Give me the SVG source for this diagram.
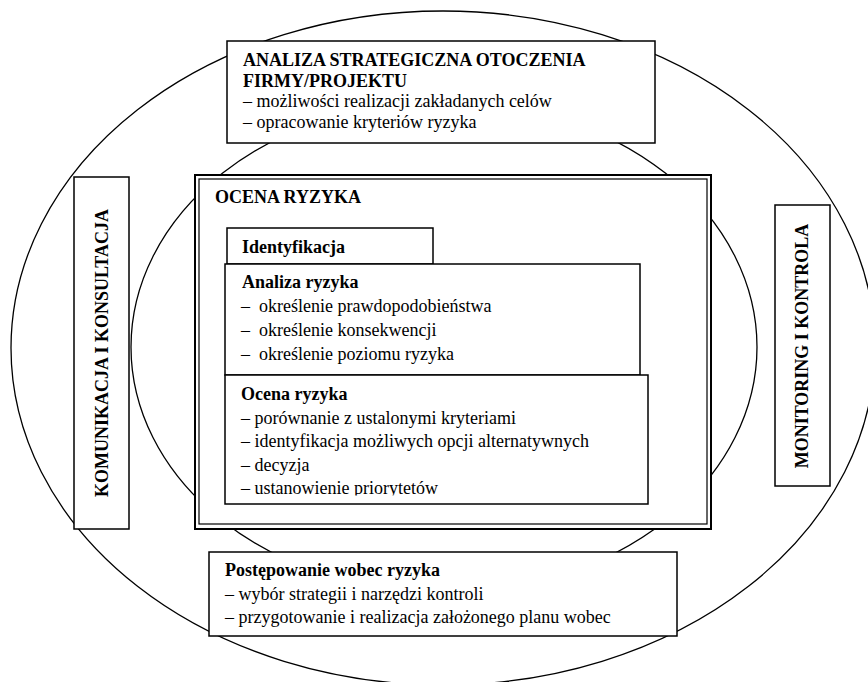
<svg xmlns="http://www.w3.org/2000/svg" width="868" height="682" viewBox="0 0 868 682">
<style>
  .bg { fill: #ffffff; }
  .ring { fill: none; stroke: #000; stroke-width: 1.3; }
  .box { fill: #fff; stroke: #000; stroke-width: 1.5; }
  .t { font-family: "Liberation Serif", "Times New Roman", serif; font-size: 18px; fill: #000; }
  .b { font-weight: bold; }
</style>
<defs>
  <clipPath id="clipOcena"><rect x="225" y="375" width="423" height="120.5"/></clipPath>
</defs>
<rect class="bg" x="0" y="0" width="868" height="682"/>
<g id="rings">
  <ellipse class="ring" cx="443" cy="348" rx="432" ry="337"/>
  <ellipse class="ring" cx="444" cy="347" rx="313" ry="246"/>
</g>
<g id="analiza-strategiczna">
  <rect class="box" x="227" y="41" width="428" height="102"/>
  <text class="t b" x="243" y="66">ANALIZA STRATEGICZNA OTOCZENIA</text>
  <text class="t b" x="243" y="87">FIRMY/PROJEKTU</text>
  <text class="t" x="243" y="107">– możliwości realizacji zakładanych celów</text>
  <text class="t" x="243" y="128">– opracowanie kryteriów ryzyka</text>
</g>
<g id="komunikacja">
  <rect class="box" x="74" y="177" width="55" height="352"/>
  <text class="t b" transform="translate(107.5,353) rotate(-90)" text-anchor="middle">KOMUNIKACJA I KONSULTACJA</text>
</g>
<g id="monitoring">
  <rect class="box" x="775" y="205" width="55" height="281"/>
  <text class="t b" transform="translate(808,346) rotate(-90)" text-anchor="middle">MONITORING I KONTROLA</text>
</g>
<g id="ocena-ryzyka-frame">
  <rect x="195" y="175" width="516" height="354" fill="#fff" stroke="#000" stroke-width="2"/>
  <rect x="199" y="179" width="508" height="345" fill="none" stroke="#000" stroke-width="1.2"/>
  <text class="t b" x="215" y="203">OCENA RYZYKA</text>
</g>
<g id="identyfikacja">
  <rect class="box" x="227" y="228" width="206" height="36"/>
  <text class="t b" x="242" y="253">Identyfikacja</text>
</g>
<g id="analiza-ryzyka">
  <rect class="box" x="225" y="264" width="415" height="111"/>
  <text class="t b" x="242" y="288">Analiza ryzyka</text>
  <text class="t" x="241" y="312">–</text><text class="t" x="259" y="312">określenie prawdopodobieństwa</text>
  <text class="t" x="241" y="336">–</text><text class="t" x="259" y="336">określenie konsekwencji</text>
  <text class="t" x="241" y="360">–</text><text class="t" x="259" y="360">określenie poziomu ryzyka</text>
</g>
<g id="ocena-ryzyka">
  <rect class="box" x="225" y="375" width="423" height="129"/>
  <g clip-path="url(#clipOcena)">
    <text class="t b" x="241" y="400">Ocena ryzyka</text>
    <text class="t" x="241" y="424">– porównanie z ustalonymi kryteriami</text>
    <text class="t" x="241" y="447">– identyfikacja możliwych opcji alternatywnych</text>
    <text class="t" x="241" y="471">– decyzja</text>
    <text class="t" x="241" y="494">– ustanowienie priorytetów</text>
  </g>
</g>
<g id="postepowanie">
  <rect class="box" x="209" y="552" width="468" height="84"/>
  <text class="t b" x="225" y="576">Postępowanie wobec ryzyka</text>
  <text class="t" x="225" y="600">– wybór strategii i narzędzi kontroli</text>
  <text class="t" x="225" y="623">– przygotowanie i realizacja założonego planu wobec</text>
</g>
</svg>
